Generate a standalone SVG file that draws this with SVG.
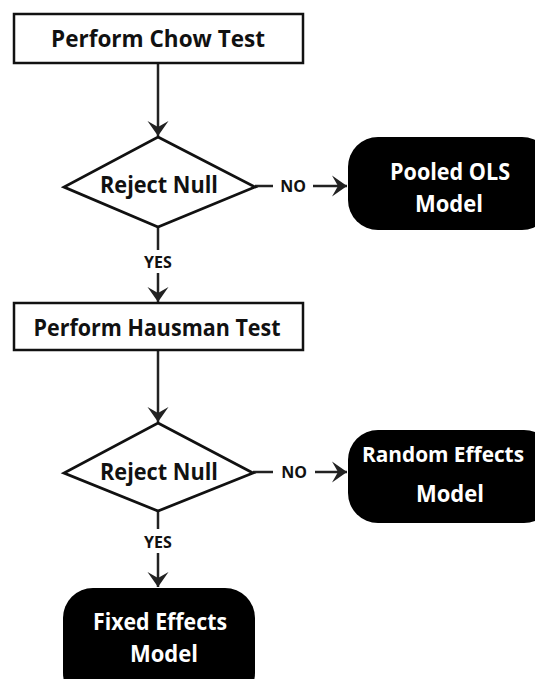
<svg xmlns="http://www.w3.org/2000/svg" width="535" height="679" viewBox="0 0 535 679">
  <style>
    .box { fill: #ffffff; stroke: #111111; stroke-width: 2.5; }
    .term { fill: #000000; stroke: none; }
    .dec { fill: #ffffff; stroke: #111111; stroke-width: 2.8; stroke-linejoin: miter; }
    .lbl { font-family: "Open Sans", "Liberation Sans", sans-serif; font-weight: 700; font-size: 23px; fill: #111111; text-anchor: middle; }
    .lblw { font-family: "Open Sans", "Liberation Sans", sans-serif; font-weight: 700; font-size: 24px; fill: #ffffff; text-anchor: middle; }
    .edge { font-family: "Open Sans", "Liberation Sans", sans-serif; font-weight: 700; font-size: 16px; fill: #111111; text-anchor: middle; }
    .conn { fill: none; stroke: #222222; stroke-width: 2.5; }
  </style>
  <defs>
    <marker id="arrow" markerUnits="userSpaceOnUse" markerWidth="20" markerHeight="24" viewBox="-16 -12 18 24" refX="0" refY="0" orient="auto">
      <path d="M0,0 L-15,-10.5 L-9,0 L-15,10.5 Z" fill="#222222"/>
    </marker>
  </defs>
  <rect width="535" height="679" fill="#ffffff"/>

  <!-- connectors -->
  <g id="connectors">
    <path class="conn" d="M158,63 V136" marker-end="url(#arrow)"/>
    <path class="conn" d="M158,227 V250"/>
    <path class="conn" d="M158,273 V302" marker-end="url(#arrow)"/>
    <path class="conn" d="M255,186 H273"/>
    <path class="conn" d="M313,186 H347" marker-end="url(#arrow)"/>
    <path class="conn" d="M158,350 V422" marker-end="url(#arrow)"/>
    <path class="conn" d="M158,511 V529"/>
    <path class="conn" d="M158,553 V587" marker-end="url(#arrow)"/>
    <path class="conn" d="M253,472 H273"/>
    <path class="conn" d="M315,472 H347" marker-end="url(#arrow)"/>
    <text class="edge" x="158" y="268">YES</text>
    <text class="edge" x="293" y="192">NO</text>
    <text class="edge" x="158" y="548">YES</text>
    <text class="edge" x="294" y="478">NO</text>
  </g>

  <g id="chow-test">
    <rect class="box" x="14" y="14" width="289" height="49"/>
    <text class="lbl" x="158" y="47" textLength="214" lengthAdjust="spacingAndGlyphs">Perform Chow Test</text>
  </g>

  <g id="reject-null-1">
    <polygon class="dec" points="158,137 255,187 158,227 64,187"/>
    <text class="lbl" x="159" y="193" textLength="118" lengthAdjust="spacingAndGlyphs">Reject Null</text>
  </g>

  <g id="pooled-ols">
    <rect class="term" x="348" y="137" width="204" height="93" rx="30" ry="30"/>
    <text class="lblw" x="450" y="180" textLength="120" lengthAdjust="spacingAndGlyphs">Pooled OLS</text>
    <text class="lblw" x="449" y="212" textLength="68" lengthAdjust="spacingAndGlyphs">Model</text>
  </g>

  <g id="hausman-test">
    <rect class="box" x="14" y="303" width="289" height="47"/>
    <text class="lbl" x="157" y="336" textLength="247" lengthAdjust="spacingAndGlyphs">Perform Hausman Test</text>
  </g>

  <g id="reject-null-2">
    <polygon class="dec" points="158,423 253,473 158,511 64,473"/>
    <text class="lbl" x="159" y="480" textLength="118" lengthAdjust="spacingAndGlyphs">Reject Null</text>
  </g>

  <g id="random-effects">
    <rect class="term" x="348" y="430" width="206" height="93" rx="30" ry="30"/>
    <text class="lblw" x="443" y="462" font-size="22" style="font-size:22px" textLength="162" lengthAdjust="spacingAndGlyphs">Random Effects</text>
    <text class="lblw" x="450" y="502" textLength="68" lengthAdjust="spacingAndGlyphs">Model</text>
  </g>

  <g id="fixed-effects">
    <rect class="term" x="63" y="588" width="192" height="115" rx="30" ry="30"/>
    <text class="lblw" x="160" y="630" textLength="134" lengthAdjust="spacingAndGlyphs">Fixed Effects</text>
    <text class="lblw" x="164" y="662" textLength="68" lengthAdjust="spacingAndGlyphs">Model</text>
  </g>
</svg>
